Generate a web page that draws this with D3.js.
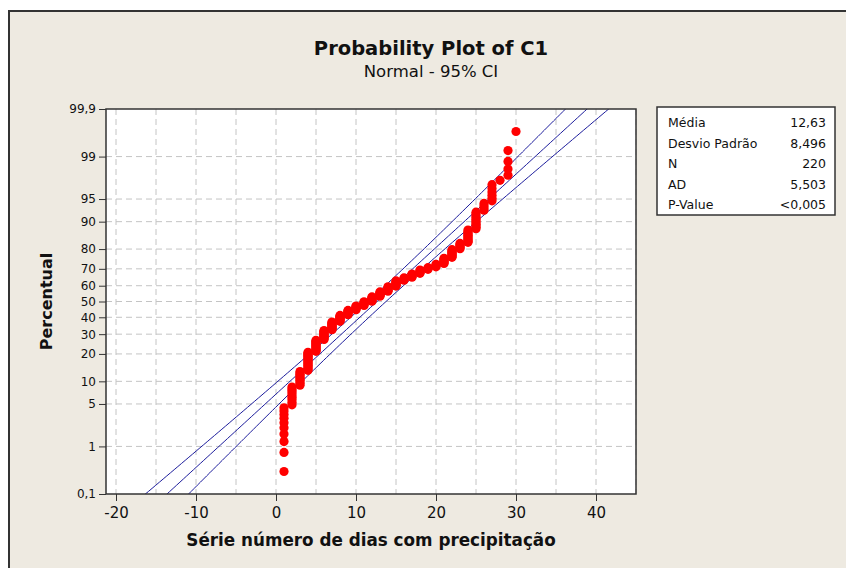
<!DOCTYPE html>
<meta charset="utf-8">
<style>
body { margin: 0; background: #fff; }
text { font-family: "DejaVu Sans", sans-serif; fill: #111; }
.grid line { stroke: #c4c4c4; stroke-dasharray: 6,4; }
.axis path, .axis line { stroke: #333; }
</style>
<svg width="846" height="568"></svg>
<script src="https://d3js.org/d3.v7.min.js"></script>
<script>

// days with precipitation (value) and how many times each occurs
var dayValues = [1,2,3,4,5,6,7,8,9,10,11,12,13,14,15,16,17,18,19,20,21,22,23,24,25,26,27,28,29,30];
var dayCounts = [10,9,10,17,13,12,11,9,7,6,6,7,7,7,8,4,5,5,3,4,7,9,6,11,11,4,6,1,4,1];

var percentTicks = [0.1,1,5,10,20,30,40,50,60,70,80,90,95,99,99.9];
var percentGrid = [1,5,10,20,30,40,50,60,70,80,90,95,99];
var xTicks = [-20,-10,0,10,20,30,40];
var xGrid = [-20,-15,-10,-5,0,5,10,15,20,25,30,35,40,45];

var statLabels = ["Média","Desvio Padrão","N","AD","P-Value"];
var statValues = ["12,63","8,496","220","5,503","<0,005"];
var mean = 12.63, sd = 8.496, n = 220;

// inverse normal cdf (Acklam)
function probit(p) {
	var a = [-39.69683028665376,220.9460984245205,-275.9285104469687,138.3577518672690,-30.66479806614716,2.506628277459239],
		b = [-54.47609879822406,161.5858368580409,-155.6989798598866,66.80131188771972,-13.28068155288572],
		c = [-0.007784894002430293,-0.3223964580411365,-2.400758277161838,-2.549732539343734,4.374664141464968,2.938163982698783],
		d = [0.007784695709041462,0.3224671290700398,2.445134137142996,3.754408661907416];
	var q, r;
	if (p < 0.02425) {
		q = Math.sqrt(-2*Math.log(p));
		return (((((c[0]*q+c[1])*q+c[2])*q+c[3])*q+c[4])*q+c[5]) / ((((d[0]*q+d[1])*q+d[2])*q+d[3])*q+1);
	} else if (p > 1-0.02425) {
		q = Math.sqrt(-2*Math.log(1-p));
		return -(((((c[0]*q+c[1])*q+c[2])*q+c[3])*q+c[4])*q+c[5]) / ((((d[0]*q+d[1])*q+d[2])*q+d[3])*q+1);
	}
	q = p - 0.5; r = q*q;
	return (((((a[0]*r+a[1])*r+a[2])*r+a[3])*r+a[4])*r+a[5])*q / (((((b[0]*r+b[1])*r+b[2])*r+b[3])*r+b[4])*r+1);
}

var svg = d3.select("svg");

// outer frame
svg.append("rect")
	.attr("x", 9).attr("y", 11)
	.attr("width", 850).attr("height", 570)
	.attr("fill", "#eeeae1")
	.attr("stroke", "#333")
	.attr("stroke-width", 2);

var pLeft = 106, pTop = 109, pRight = 636, pBottom = 494;

var x = d3.scaleLinear().domain([-21.25, 45]).range([pLeft, pRight]),
	zMax = -probit(0.001),
	y = d3.scaleLinear().domain([-zMax, zMax]).range([pBottom, pTop]);

svg.append("rect")
	.attr("x", pLeft).attr("y", pTop)
	.attr("width", pRight - pLeft).attr("height", pBottom - pTop)
	.attr("fill", "#fff");

svg.append("defs").append("clipPath").attr("id", "clip")
	.append("rect")
	.attr("x", pLeft).attr("y", pTop)
	.attr("width", pRight - pLeft).attr("height", pBottom - pTop);

// grid
var grid = svg.append("g").attr("class", "grid");
grid.selectAll(".gx").data(xGrid).enter().append("line")
	.attr("x1", function(d) { return x(d); }).attr("x2", function(d) { return x(d); })
	.attr("y1", pTop).attr("y2", pBottom);
grid.selectAll(".gy").data(percentGrid).enter().append("line")
	.attr("x1", pLeft).attr("x2", pRight)
	.attr("y1", function(d) { return y(probit(d/100)); })
	.attr("y2", function(d) { return y(probit(d/100)); });

// fitted line and 95% CI
var zs = d3.range(-3.4, 3.41, 0.05);
var lineGen = d3.line()
	.x(function(d) { return x(d[0]); })
	.y(function(d) { return y(d[1]); });
var fits = [0, -1.96, 1.96].map(function(k) {
	return zs.map(function(z) {
		var se = sd * Math.sqrt((1 + z*z/2) / n);
		return [mean + sd*z + k*se, z];
	});
});
svg.append("g").attr("clip-path", "url(#clip)")
	.selectAll("path").data(fits).enter().append("path")
	.attr("d", lineGen)
	.attr("fill", "none")
	.attr("stroke", "#1c1c9c")
	.attr("stroke-width", 1);

// points at median ranks
var points = [];
dayValues.forEach(function(v, j) {
	for (var k = 0; k < dayCounts[j]; k++) points.push(v);
});
svg.append("g").selectAll("circle")
	.data(points).enter().append("circle")
	.attr("cx", function(d) { return x(d); })
	.attr("cy", function(d, i) { return y(probit((i + 1 - 0.3) / (points.length + 0.4))); })
	.attr("r", 4.6)
	.attr("fill", "#ff0000");

// axes
var xAxis = svg.append("g").attr("class", "axis")
	.attr("transform", "translate(0," + pBottom + ")")
	.call(d3.axisBottom(x).tickValues(xTicks)
		.tickFormat(function(d) { return String(d); })
		.tickSize(7).tickPadding(5).tickSizeOuter(0));
xAxis.select(".domain").remove();
xAxis.selectAll("text").attr("font-size", 15).attr("dy", "0.78em");

var yAxis = svg.append("g").attr("class", "axis")
	.attr("transform", "translate(" + pLeft + ",0)")
	.call(d3.axisLeft(y)
		.tickValues(percentTicks.map(function(p) { return probit(p/100); }))
		.tickFormat(function(d, i) { return String(percentTicks[i]).replace(".", ","); })
		.tickSize(7).tickPadding(3).tickSizeOuter(0));
yAxis.select(".domain").remove();
yAxis.selectAll("text").attr("font-size", 12);

svg.append("rect")
	.attr("x", pLeft).attr("y", pTop)
	.attr("width", pRight - pLeft).attr("height", pBottom - pTop)
	.attr("fill", "none").attr("stroke", "#333").attr("stroke-width", 1.5);

// titles
svg.append("text").attr("x", 431).attr("y", 55)
	.attr("text-anchor", "middle").attr("font-size", 19.5).attr("font-weight", "bold")
	.text("Probability Plot of C1");
svg.append("text").attr("x", 431).attr("y", 77)
	.attr("text-anchor", "middle").attr("font-size", 16.5)
	.text("Normal - 95% CI");
svg.append("text").attr("x", (pLeft + pRight)/2).attr("y", 546)
	.attr("text-anchor", "middle").attr("font-size", 16.8).attr("font-weight", "bold")
	.text("Série número de dias com precipitação");
svg.append("text")
	.attr("transform", "translate(52," + (pTop + pBottom)/2 + ") rotate(-90)")
	.attr("text-anchor", "middle").attr("font-size", 16).attr("font-weight", "bold")
	.text("Percentual");

// stats box
var box = svg.append("g").attr("transform", "translate(657,107)");
box.append("rect").attr("width", 178).attr("height", 108)
	.attr("fill", "#fff").attr("stroke", "#333").attr("stroke-width", 1.5);
box.selectAll(".lab").data(statLabels).enter().append("text")
	.attr("x", 11).attr("y", function(d, i) { return 20 + i*20.5; })
	.attr("font-size", 12.5).text(function(d) { return d; });
box.selectAll(".val").data(statValues).enter().append("text")
	.attr("x", 169).attr("y", function(d, i) { return 20 + i*20.5; })
	.attr("text-anchor", "end")
	.attr("font-size", 12.5).text(function(d) { return d; });

</script>
